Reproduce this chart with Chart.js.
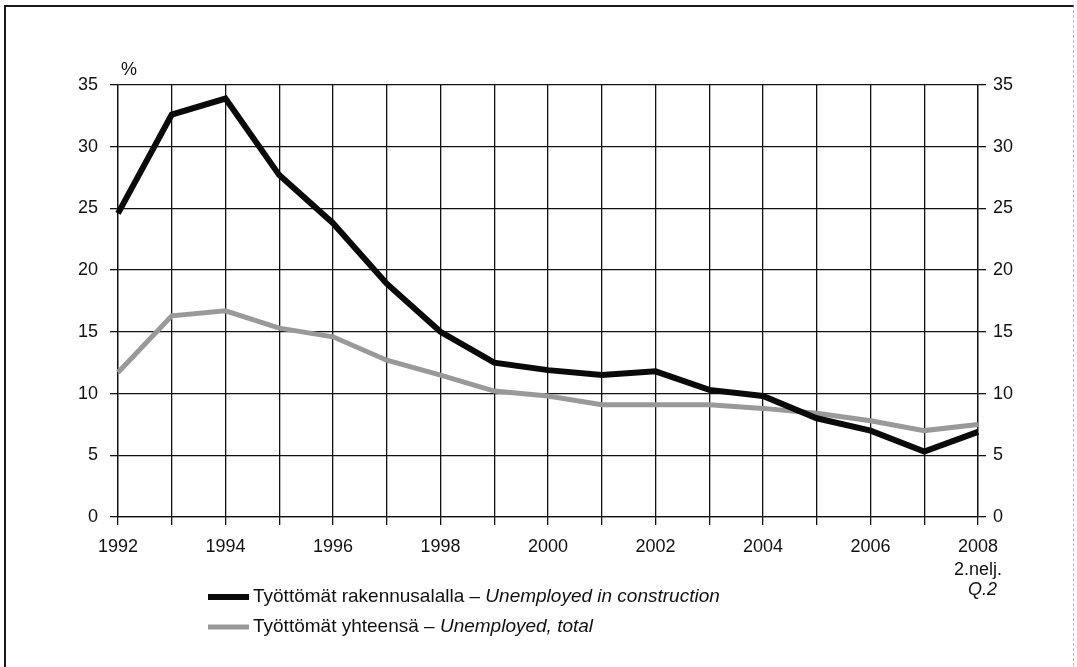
<!DOCTYPE html>
<html>
<head>
<meta charset="utf-8">
<script src="https://cdn.jsdelivr.net/npm/chart.js@4.4.0/dist/chart.umd.min.js"></script>
<style>
  html, body { margin: 0; padding: 0; background: #fff; }
  #wrap { position: relative; width: 1077px; height: 667px; }
  #frame { position: absolute; left: 4px; top: 5px; right: 3px; bottom: -4px;
           border-top: 2px solid #1a1a1a; border-left: 2px solid #1a1a1a;
           border-right: 1px dashed #bbb; pointer-events: none; }
</style>
</head>
<body>
<div id="wrap">
  <canvas id="chart" width="1077" height="667"></canvas>
  <div id="frame"></div>
</div>
<script>
const years = ['1992','1993','1994','1995','1996','1997','1998','1999','2000',
               '2001','2002','2003','2004','2005','2006','2007','2008'];
const construction = [24.6, 32.6, 33.9, 27.7, 23.8, 18.9, 15.0, 12.5, 11.9,
                      11.5, 11.8, 10.3, 9.8, 8.0, 7.0, 5.3, 6.9];
const total = [11.7, 16.3, 16.7, 15.3, 14.6, 12.7, 11.5, 10.2, 9.8,
               9.1, 9.1, 9.1, 8.8, 8.4, 7.8, 7.0, 7.5];
const yTicks = [0, 5, 10, 15, 20, 25, 30, 35];
const legendNames = [
  ['Työttömät rakennusalalla – ', 'Unemployed in construction'],
  ['Työttömät yhteensä – ', 'Unemployed, total']
];

const FONT = '"Liberation Sans", Arial, sans-serif';

// extra texts: % unit, the Q.2 line under 2008, and the two-font legend
const extras = {
  id: 'extras',
  afterDraw(chart) {
    const ctx = chart.ctx;
    const x = chart.scales.x, y = chart.scales.y;
    ctx.save();
    ctx.fillStyle = '#111';
    ctx.font = '18px ' + FONT;
    ctx.textBaseline = 'middle';
    ctx.textAlign = 'left';
    ctx.fillText('%', x.left + 3, y.top - 15);

    ctx.textAlign = 'right';
    ctx.font = 'italic 18px ' + FONT;
    ctx.fillText('Q.2', x.getPixelForValue(years.length - 1) + 19, 590);

    ctx.textAlign = 'left';
    chart.data.datasets.forEach((ds, i) => {
      const ly = 597 + i * 30;
      ctx.strokeStyle = ds.borderColor;
      ctx.lineWidth = ds.borderWidth;
      ctx.beginPath();
      ctx.moveTo(208, ly);
      ctx.lineTo(249, ly);
      ctx.stroke();
      ctx.font = '19px ' + FONT;
      ctx.fillText(legendNames[i][0], 253, ly);
      const w = ctx.measureText(legendNames[i][0]).width;
      ctx.font = 'italic 19px ' + FONT;
      ctx.fillText(legendNames[i][1], 253 + w, ly);
    });
    ctx.restore();
  }
};

new Chart(document.getElementById('chart').getContext('2d'), {
  type: 'line',
  data: {
    labels: years,
    datasets: [
      { label: legendNames[0].join(''), data: construction, borderColor: '#0a0a0a',
        borderWidth: 6, pointRadius: 0, tension: 0, yAxisID: 'y' },
      { label: legendNames[1].join(''), data: total, borderColor: '#999999',
        borderWidth: 5, pointRadius: 0, tension: 0, yAxisID: 'y' }
    ]
  },
  options: {
    responsive: false,
    animation: false,
    layout: { padding: { left: 0, right: 39, top: 85, bottom: 80 } },
    plugins: { legend: { display: false }, tooltip: { enabled: false } },
    scales: {
      x: {
        type: 'category',
        offset: false,
        grid: { color: '#111', lineWidth: 1.3, tickLength: 8 },
        border: { color: '#111', width: 1.3 },
        ticks: {
          autoSkip: false, maxRotation: 0, padding: 11,
          color: '#111', font: { family: FONT, size: 18, lineHeight: 1.25 },
          callback: (v, i) => {
            if (i === years.length - 1) return [years[i], '2.nelj.'];
            return i % 2 === 0 ? years[i] : '';
          }
        },
        afterFit: s => { s.height = 70; }
      },
      y: {
        position: 'left',
        min: 0, max: 35,
        afterBuildTicks: s => { s.ticks = yTicks.map(v => ({ value: v })); },
        grid: { color: '#111', lineWidth: 1.3, tickLength: 8 },
        border: { color: '#111', width: 1.3 },
        ticks: { padding: 12, color: '#111', font: { family: FONT, size: 18 } },
        afterFit: s => { s.width = 118; }
      },
      y2: {
        position: 'right',
        min: 0, max: 35,
        afterBuildTicks: s => { s.ticks = yTicks.map(v => ({ value: v })); },
        grid: { drawOnChartArea: false, color: '#111', lineWidth: 1.3, tickLength: 8 },
        border: { color: '#111', width: 1.3 },
        ticks: { padding: 7, color: '#111', font: { family: FONT, size: 18 } },
        afterFit: s => { s.width = 60; }
      }
    }
  },
  plugins: [extras]
});
</script>
</body>
</html>
